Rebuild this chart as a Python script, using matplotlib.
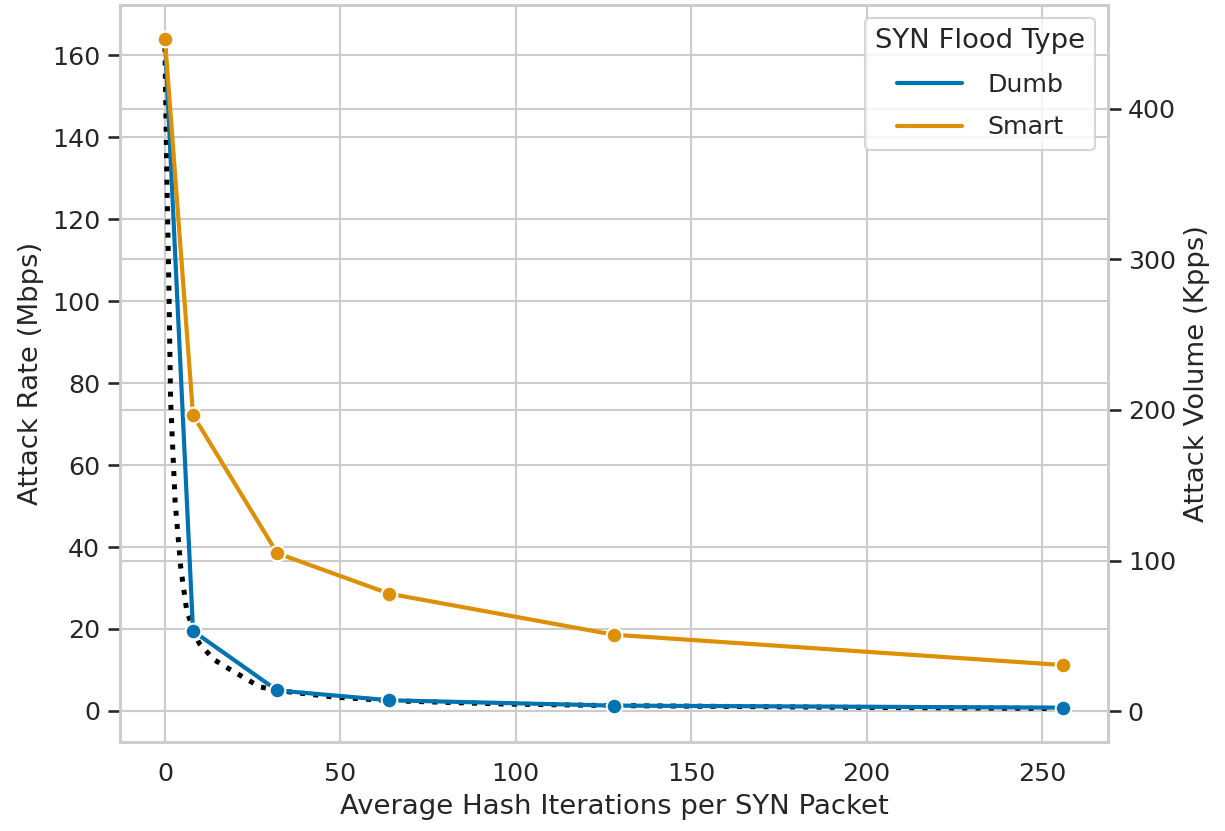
import numpy as np
import matplotlib.pyplot as plt
import seaborn as sns
from matplotlib.lines import Line2D

sns.set_theme(style='whitegrid', context='notebook', font_scale=1.1)

# hash iterations per SYN packet
iterations = [0, 8, 32, 64, 128, 256]
dumb_mbps = [164, 19.5, 5.0, 2.6, 1.3, 0.8]
smart_mbps = [164, 72.2, 38.5, 28.6, 18.6, 11.2]

# dotted reference curve
curve_x = [0, 0.5, 1.15, 1.6, 2.9, 4.5, 6.2, 8, 9.75, 14, 18.4, 27, 32, 48, 64, 96, 128, 192, 256]
curve_y = [162, 132, 102, 76, 51, 35, 24.5, 20, 16.5, 12.5, 10.2, 5.9, 5.0, 3.4, 2.5, 1.7, 1.3, 0.9, 0.6]

col_dumb = '#0173b2'
col_smart = '#de8f05'

fig = plt.figure(figsize=(1225/150, 831/150), dpi=150)
ax = fig.add_axes([0.098, 0.107, 0.8065, 0.887])

ax.plot(curve_x, curve_y, color='black', linestyle=':', linewidth=2.4, zorder=2)
ax.plot(iterations, dumb_mbps, color=col_dumb, linewidth=2, marker='o',
        markersize=7.5, markeredgecolor='white', markeredgewidth=1, zorder=3)
ax.plot(iterations, smart_mbps, color=col_smart, linewidth=2, marker='o',
        markersize=7.5, markeredgecolor='white', markeredgewidth=1, zorder=3)

ax.set_xlim(-12.8, 268.8)
ax.set_ylim(-7.6, 172.3)
ax.set_xticks([0, 50, 100, 150, 200, 250])
ax.set_yticks([0, 20, 40, 60, 80, 100, 120, 140, 160])
ax.set_xlabel('Average Hash Iterations per SYN Packet')
ax.set_ylabel('Attack Rate (Mbps)')

ax2 = ax.twinx()
ax2.set_ylim(-20.6, 469)
ax2.set_yticks([0, 100, 200, 300, 400])
ax2.set_ylabel('Attack Volume (Kpps)')
ax2.set_zorder(0)
ax.set_zorder(1)
ax.patch.set_visible(False)

handles = [Line2D([], [], color=col_dumb, linewidth=2),
           Line2D([], [], color=col_smart, linewidth=2)]
ax.legend(handles, ['Dumb', 'Smart'], title='SYN Flood Type', loc='upper right',
          labelspacing=0.75, handlelength=2.6, handletextpad=1.0)

fig.savefig('out.png', dpi=150)
